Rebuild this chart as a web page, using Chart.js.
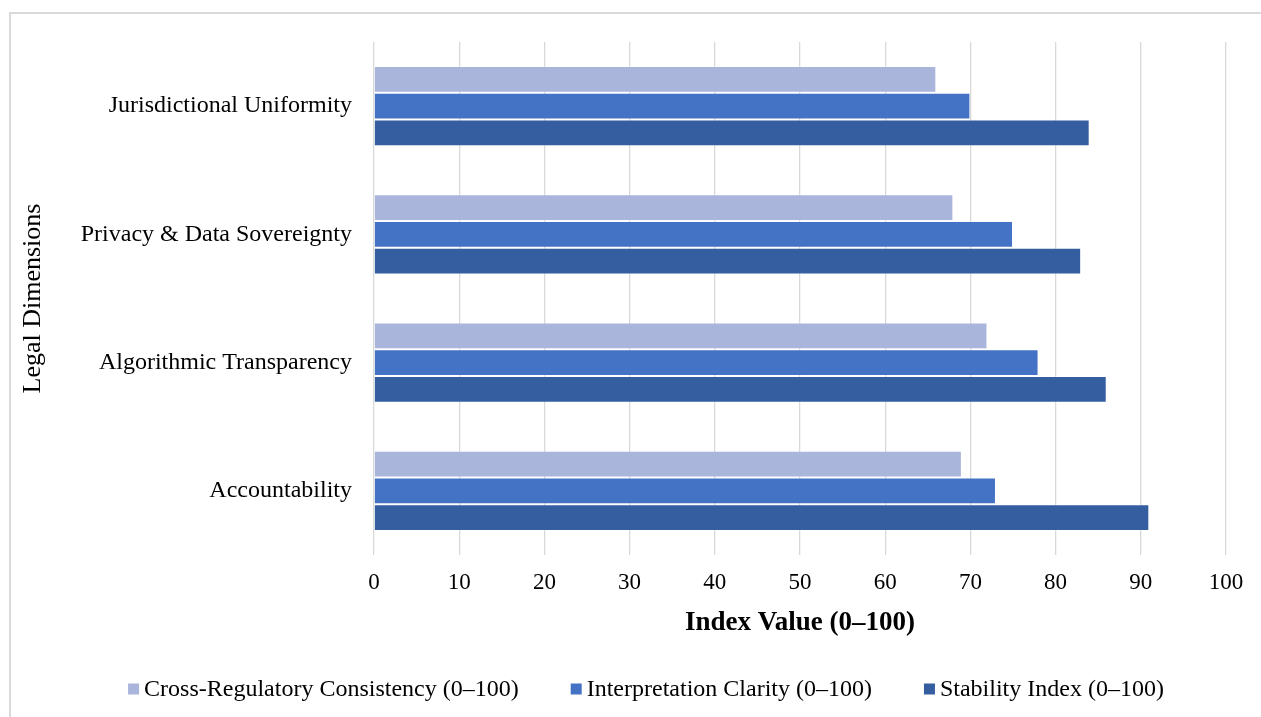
<!DOCTYPE html>
<html>
<head>
<meta charset="utf-8">
<script src="https://cdn.jsdelivr.net/npm/chart.js@4.4.1/dist/chart.umd.min.js"></script>
<style>
  html, body { margin: 0; padding: 0; background: #fff; overflow: hidden; }
  #frame { position: absolute; left: 9px; top: 12px; width: 1300px; height: 800px;
           border-left: 2px solid #d9d9d9; border-top: 2px solid #d9d9d9; }
  #wrap { position: absolute; left: 0; top: 0; width: 1261px; height: 717px; }
</style>
</head>
<body>
<div id="frame"></div>
<div id="wrap"><canvas id="chart" width="1261" height="717"></canvas></div>
<script>
    // categories, top to bottom
    const dimensions = ['Jurisdictional Uniformity', 'Privacy & Data Sovereignty', 'Algorithmic Transparency', 'Accountability'];

    // series values
    const crossRegulatory = [66, 68, 72, 69];
    const interpretationClarity = [70, 75, 78, 73];
    const stabilityIndex = [84, 83, 86, 91];

    const seriesNames = ['Cross-Regulatory Consistency (0–100)', 'Interpretation Clarity (0–100)', 'Stability Index (0–100)'];
    const seriesColors = ['#a9b5da', '#4472c4', '#355ea0'];

    const xTicks = [0, 10, 20, 30, 40, 50, 60, 70, 80, 90, 100];

    const serif = "'Liberation Serif', 'Times New Roman', serif";

    // legend drawn by hand so the spacing matches the original
    const bottomLegend = {
        id: 'bottomLegend',
        afterDraw(chart) {
            const ctx = chart.ctx;
            const box = 11, gapText = 5, gapItem = 52, cy = 690;
            ctx.save();
            ctx.font = '24px ' + serif;
            const items = chart.data.datasets.map(ds => ({ label: ds.label, color: ds.backgroundColor, w: ctx.measureText(ds.label).width }));
            const total = items.reduce((s, it) => s + box + gapText + it.w, 0) + gapItem * (items.length - 1);
            let x = 646 - total / 2;
            ctx.textBaseline = 'middle';
            items.forEach(it => {
                ctx.fillStyle = it.color;
                ctx.fillRect(x, cy - box / 2 - 1, box, box);
                x += box + gapText;
                ctx.fillStyle = '#000';
                ctx.fillText(it.label, x, cy);
                x += it.w + gapItem;
            });
            ctx.restore();
        }
    };

    const datasets = [crossRegulatory, interpretationClarity, stabilityIndex].map((vals, i) => ({
        label: seriesNames[i],
        data: vals,
        backgroundColor: seriesColors[i],
        borderColor: 'rgba(255,255,255,0.25)',
        borderWidth: 1,
        categoryPercentage: 0.625,
        barPercentage: 1
    }));

    new Chart(document.getElementById('chart'), {
        type: 'bar',
        data: { labels: dimensions, datasets: datasets },
        options: {
            indexAxis: 'y',
            responsive: false,
            animation: false,
            devicePixelRatio: 1,
            layout: { padding: { top: 42, right: 35, left: 0, bottom: 72 } },
            plugins: { legend: { display: false }, tooltip: { enabled: false } },
            scales: {
                x: {
                    min: 0,
                    max: 100,
                    afterBuildTicks: scale => { scale.ticks = xTicks.map(v => ({ value: v })); },
                    afterFit: scale => { scale.height = 90; },
                    grid: { color: '#d9d9d9', lineWidth: 1.3, drawTicks: false },
                    border: { display: false },
                    ticks: { color: '#000', padding: 14, font: { family: serif, size: 23 } },
                    title: {
                        display: true,
                        text: 'Index Value (0–100)',
                        color: '#000',
                        font: { family: serif, size: 27, weight: 'bold' },
                        padding: { top: 0, bottom: 6 }
                    }
                },
                y: {
                    afterFit: scale => { scale.width = 374; },
                    grid: { display: false, drawTicks: false },
                    border: { display: false },
                    ticks: { color: '#000', padding: 22, font: { family: serif, size: 24 } },
                    title: {
                        display: true,
                        text: 'Legal Dimensions',
                        color: '#000',
                        font: { family: serif, size: 26 },
                        padding: { top: 18, bottom: 0 }
                    }
                }
            }
        },
        plugins: [bottomLegend]
    });
</script>
</body>
</html>
